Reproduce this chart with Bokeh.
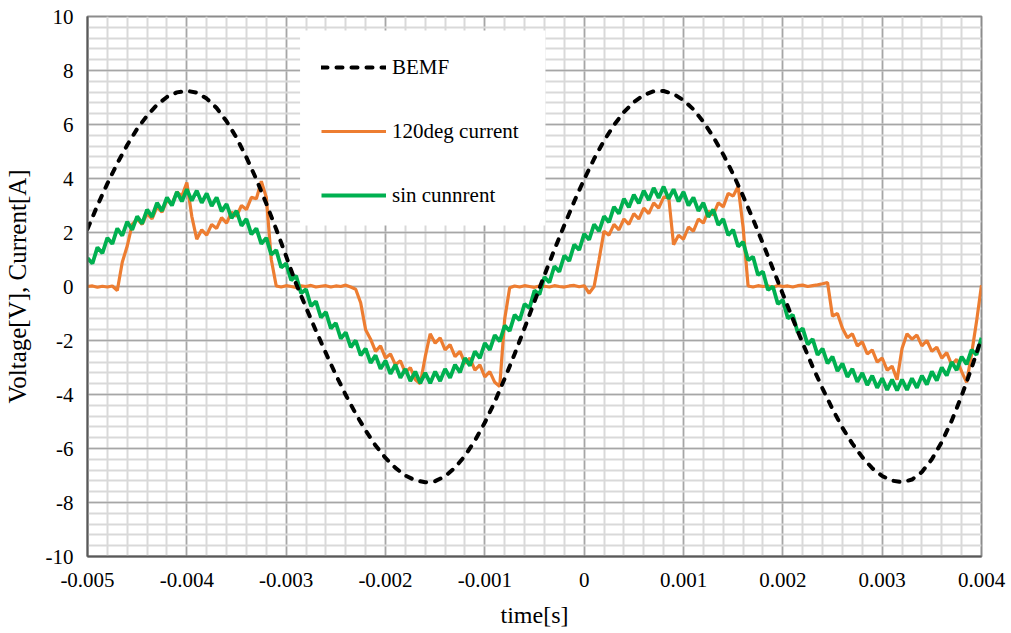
import numpy as np
from bokeh.plotting import figure
from bokeh.models import Range1d, FixedTicker, Legend, LegendItem, BoxAnnotation
from bokeh.embed import file_html
from bokeh.resources import INLINE

# ---------------- data ----------------
x_ticks = [-0.005, -0.004, -0.003, -0.002, -0.001, 0.0, 0.001, 0.002, 0.003, 0.004]
x_labels = ["-0.005", "-0.004", "-0.003", "-0.002", "-0.001", "0", "0.001", "0.002", "0.003", "0.004"]
y_ticks = [-10, -8, -6, -4, -2, 0, 2, 4, 6, 8, 10]
y_labels = ["-10", "-8", "-6", "-4", "-2", "0", "2", "4", "6", "8", "10"]

t_start, t_end = -0.005, 0.004

# BEMF, sampled every 0.1 ms from -5 ms to 4 ms
bemf = [2.13, 3.00, 3.81, 4.56, 5.24, 5.84, 6.33, 6.73, 7.02, 7.19,
        7.25, 7.18, 6.96, 6.61, 6.12, 5.51, 4.78, 3.97, 3.07, 2.12,
        1.12, 0.10, -0.78, -1.64, -2.47, -3.27, -4.02, -4.71, -5.33, -5.89,
        -6.35, -6.72, -7.00, -7.18, -7.25, -7.21, -7.03, -6.71, -6.27, -5.71,
        -5.04, -4.27, -3.41, -2.50, -1.54, -0.55, 0.42, 1.36, 2.27, 3.15,
        3.97, 4.73, 5.40, 5.98, 6.46, 6.83, 7.09, 7.23, 7.24, 7.13,
        6.90, 6.56, 6.10, 5.54, 4.89, 4.16, 3.35, 2.49, 1.59, 0.66,
        -0.28, -1.20, -2.10, -2.97, -3.78, -4.54, -5.23, -5.82, -6.32, -6.73,
        -7.02, -7.19, -7.25, -7.15, -6.87, -6.40, -5.76, -4.97, -4.05, -3.02,
        -1.91]

# 120deg current, sampled every 0.05 ms
cur120 = [0.0, 0.02, -0.03, 0.01, -0.02, 0.02, -0.15, 0.9, 1.5, 2.3,
          2.5, 2.3, 2.7, 2.5, 2.95, 2.75, 3.2, 3.05, 3.5, 3.35,
          3.85, 2.6, 1.75, 2.1, 1.9, 2.3, 2.15, 2.55, 2.35, 2.75,
          2.6, 3.0, 2.85, 3.3, 3.25, 3.9, 3.3, 1.0, 0.02,
          -0.02, 0.03, 0.0, -0.03, 0.02, 0.0, 0.04, -0.02, 0.01, 0.03,
          -0.02, 0.02, 0.0, 0.05, -0.02,
          -0.1, -0.6, -1.6, -1.95, -2.4, -2.2, -2.65, -2.5, -2.9, -2.75,
          -3.2, -3.0, -3.45, -3.6, -2.6, -1.75, -2.1, -1.9, -2.35, -2.15,
          -2.6, -2.4, -2.85, -2.65, -3.1, -2.9, -3.35, -3.15, -3.55, -3.7,
          -1.2, -0.05,
          0.02, -0.02, 0.03, 0.0, -0.03, 0.02, 0.01, -0.02, 0.03, 0.0,
          -0.02, 0.02, 0.04, -0.01,
          0.03, -0.25, 0.0, 1.0, 2.05, 1.9, 2.3, 2.1, 2.5, 2.3,
          2.7, 2.5, 2.9, 2.7, 3.1, 2.9, 3.3, 3.35, 1.55, 1.9,
          1.75, 2.2, 2.05, 2.5, 2.35, 2.8, 2.65, 3.1, 2.95, 3.45,
          3.35, 3.7, 2.2, 0.02,
          -0.02, 0.03, 0.0, 0.02, -0.03, 0.04, 0.0, 0.02, -0.02, 0.03,
          0.05, 0.0, 0.03, 0.06, 0.1,
          0.15, -1.1, -1.0, -1.55, -1.9, -1.75, -2.2, -2.05, -2.5, -2.35,
          -2.8, -2.65, -3.1, -2.95, -3.45, -2.3, -1.75, -1.95, -1.8, -2.2,
          -2.0, -2.4, -2.25, -2.65, -2.45, -2.9, -2.7, -3.15, -3.55, -2.5,
          -1.3, 0.05]

# sin current, sampled every 0.05 ms
cur_sin = [1.05, 0.85, 1.45, 1.23, 1.8, 1.58, 2.15, 1.88, 2.4, 2.1,
           2.6, 2.33, 2.85, 2.58, 3.1, 2.8, 3.3, 3.0, 3.5, 3.15,
           3.6, 3.18, 3.55, 3.1, 3.45, 2.98, 3.3, 2.78, 3.05, 2.53,
           2.8, 2.25, 2.5, 1.93, 2.15, 1.58, 1.8, 1.18, 1.35, 0.7,
           0.85, 0.23, 0.4, -0.25, -0.1, -0.73, -0.55, -1.15, -0.95, -1.55,
           -1.35, -1.93, -1.7, -2.25, -2.0, -2.55, -2.3, -2.83, -2.55, -3.05,
           -2.75, -3.23, -2.9, -3.38, -3.05, -3.5, -3.15, -3.58, -3.2, -3.58,
           -3.15, -3.5, -3.05, -3.38, -2.9, -3.18, -2.65, -2.93, -2.4, -2.65,
           -2.1, -2.35, -1.8, -2.03, -1.45, -1.65, -1.05, -1.25, -0.65, -0.8,
           -0.15, -0.3, 0.35, 0.15, 0.75, 0.55, 1.15, 0.95, 1.55, 1.35,
           1.95, 1.73, 2.3, 2.05, 2.6, 2.38, 2.95, 2.7, 3.25, 2.93,
           3.4, 3.08, 3.55, 3.2, 3.65, 3.28, 3.7, 3.25, 3.6, 3.15,
           3.5, 3.0, 3.3, 2.8, 3.1, 2.58, 2.85, 2.28, 2.5, 1.9,
           2.1, 1.48, 1.65, 0.98, 1.1, 0.43, 0.55, -0.13, 0.0, -0.65,
           -0.5, -1.18, -1.05, -1.7, -1.55, -2.15, -1.95, -2.53, -2.3, -2.85,
           -2.6, -3.13, -2.85, -3.35, -3.05, -3.53, -3.2, -3.65, -3.3, -3.75,
           -3.4, -3.83, -3.45, -3.85, -3.45, -3.83, -3.4, -3.75, -3.3, -3.63,
           -3.15, -3.48, -3.0, -3.3, -2.8, -3.1, -2.6, -2.88, -2.35, -2.53,
           -1.9]

t_bemf = np.linspace(t_start, t_end, len(bemf))
t_120 = np.linspace(t_start, t_end, len(cur120))
t_sin = np.linspace(t_start, t_end, len(cur_sin))

# ---------------- figure ----------------
FONT = "Liberation Serif"

p = figure(width=1010, height=631, output_backend="svg", toolbar_location=None,
           x_range=Range1d(t_start, t_end), y_range=Range1d(-10, 10),
           min_border_left=80, min_border_right=29, min_border_top=16, min_border_bottom=75)
p.background_fill_color = "white"
p.border_fill_color = "white"
p.outline_line_color = "#8c8c8c"
p.outline_line_width = 2

x_minor = list(np.round(np.arange(t_start, t_end + 1e-9, 0.0002), 6))
y_minor = list(np.round(np.arange(-10, 10.0001, 0.4), 3))
xt = FixedTicker(ticks=x_ticks, minor_ticks=x_minor)
yt = FixedTicker(ticks=y_ticks, minor_ticks=y_minor)
p.xaxis.ticker = xt
p.yaxis.ticker = yt
p.xgrid.ticker = xt
p.ygrid.ticker = yt
p.xaxis.major_label_overrides = dict(zip(x_ticks, x_labels))
p.yaxis.major_label_overrides = dict(zip(y_ticks, y_labels))

for g in (p.xgrid, p.ygrid):
    g.grid_line_color = "#a6a6a6"
    g.grid_line_width = 1.5
    g.minor_grid_line_color = "#d9d9d9"
    g.minor_grid_line_width = 2

for ax in (p.xaxis, p.yaxis):
    ax.axis_line_color = "#595959"
    ax.axis_line_width = 2
    ax.major_tick_line_color = None
    ax.minor_tick_line_color = None
    ax.major_label_text_font = FONT
    ax.major_label_text_font_size = "21px"
    ax.major_label_text_color = "black"
    ax.axis_label_text_font = FONT
    ax.axis_label_text_font_style = "normal"
    ax.axis_label_text_color = "black"

p.xaxis.axis_label = "time[s]"
p.yaxis.axis_label = "Voltage[V], Current[A]"
p.xaxis.axis_label_text_font_size = "24px"
p.yaxis.axis_label_text_font_size = "25px"
p.xaxis.major_label_standoff = 10
p.xaxis.axis_label_standoff = 12
p.yaxis.major_label_standoff = 8
p.yaxis.axis_label_standoff = 12

# white legend panel (Excel-style legend box)
p.add_layout(BoxAnnotation(left=-0.00286, right=-0.00039, top=9.48, bottom=2.26,
                           fill_color="white", fill_alpha=1.0, line_color=None,
                           level="underlay"))

r120 = p.line(t_120, cur120, line_color="#ED7D31", line_width=3.2)
rsin = p.line(t_sin, cur_sin, line_color="#00B050", line_width=3.8)
rb = p.line(t_bemf, bemf, line_color="black", line_width=4, line_dash="6 9", line_cap="round")

legend = Legend(items=[LegendItem(label="BEMF", renderers=[rb]),
                       LegendItem(label="120deg current", renderers=[r120]),
                       LegendItem(label="sin cunnrent", renderers=[rsin])],
                location=(234, 348))
legend.label_text_font = FONT
legend.label_text_font_size = "21px"
legend.label_text_color = "black"
legend.glyph_width = 65
legend.glyph_height = 26
legend.label_height = 26
legend.label_standoff = 6
legend.spacing = 38
legend.padding = 0
legend.margin = 0
legend.border_line_color = None
legend.background_fill_alpha = 0.0
p.add_layout(legend)

open("out.html", "w").write(file_html(p, INLINE))
